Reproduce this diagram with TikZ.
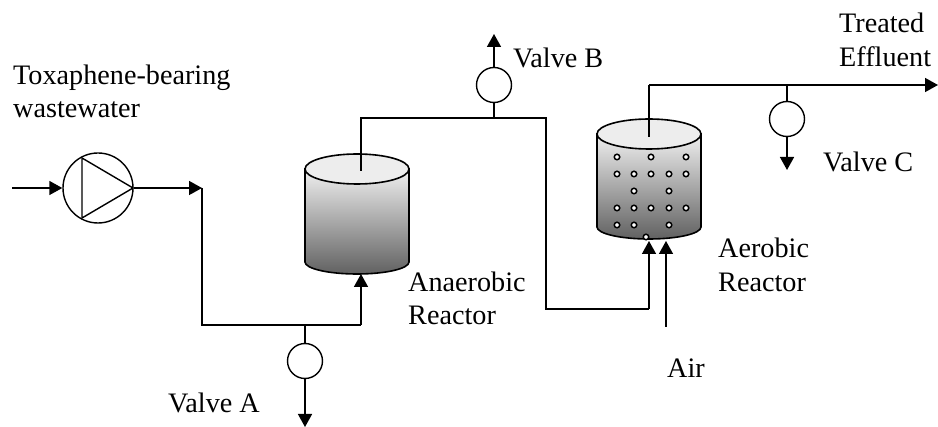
\documentclass[tikz,border=0pt]{standalone}
\usepackage{fontspec}
\setmainfont{Liberation Serif}
\usetikzlibrary{arrows.meta}
\tikzset{
  every picture/.style={x=1pt,y=-1pt},
  pipe/.style={line width=1.5pt,line join=miter},
  flow/.style={pipe,-{Triangle[length=13pt,width=14pt]}},
  valve/.style={circle,draw,line width=1.4pt,minimum size=35pt,inner sep=0pt,fill=white},
  pump/.style={circle,draw,line width=1.4pt,minimum size=70pt,inner sep=0pt,fill=white},
  lbl/.style={anchor=base west,inner sep=0pt,font=\fontsize{28.2pt}{30pt}\selectfont},
  tank/.style={line width=1.6pt,draw=black,top color=black!6,bottom color=black!62,shading angle=0},
  tanktop/.style={line width=1.6pt,draw=black,fill=black!7},
  bubble/.style={circle,draw,line width=1.5pt,fill=white,minimum size=5.5pt,inner sep=0pt}
}
\newcommand{\tankshape}[4]{% cx, top y, rx, side end y
  \path[tank] (#1-#3,#2) -- (#1-#3,#4) arc[start angle=180,end angle=360,x radius=#3,y radius=-12] -- (#1+#3,#2) -- cycle;
  \path[tanktop] (#1,#2) ellipse[x radius=#3,y radius=15];
}
\begin{document}
\begin{tikzpicture}
\useasboundingbox (0,0) rectangle (938,427);
\tankshape{357}{169}{52}{262}
\tankshape{649}{134}{52}{227}
% bubbles
\foreach \x/\y [count=\i] in {617/157,651/157,686/157,
  617/174,634/174,651/174,669/174,686/174,
  634/191,669/191,
  617/208,634/208,651/208,669/208,686/208,
  617/225,634/225,669/225,646/237}
  \node[bubble] (b\i) at (\x,\y) {};
% equipment
\node[pump] (pump) at (98,188) {};
\coordinate (pa) at (82,158);
\coordinate (pb) at (82,218);
\coordinate (pc) at (133,188);
\draw[line width=1.4pt,line join=round] (pa) -- (pb) -- (pc) -- cycle;
\node[valve] (va) at (305,361) {};
\node[valve] (vb) at (494,85) {};
\node[valve] (vc) at (787,119) {};
% coordinates
\coordinate (in) at (12,188);
\coordinate (j1) at (202,188);
\coordinate (j2) at (202,325);
\coordinate (ja) at (305,325);
\coordinate (j3) at (361,325);
\coordinate (ana) at (361,274);
\coordinate (aout) at (361,171);
\coordinate (j4) at (361,118);
\coordinate (jb) at (494,118);
\coordinate (j5) at (546,118);
\coordinate (j6) at (546,309);
\coordinate (j7) at (649,309);
\coordinate (aer) at (649,241);
\coordinate (airin) at (666,327);
\coordinate (airend) at (666,241);
\coordinate (eout) at (649,137);
\coordinate (j8) at (649,85);
\coordinate (jc) at (787,85);
\coordinate (eff) at (938,85);
\coordinate (aend) at (305,427);
\coordinate (bend) at (494,34);
\coordinate (cend) at (787,170);
% pipes
\draw[flow] (in) -- (pump);
\draw[flow] (pump) -- (j1);
\draw[pipe] (j1) -- (j2) -- (j3);
\draw[flow] (j3) -- (ana);
\draw[pipe] (ja) -- (va);
\draw[flow] (va) -- (aend);
\draw[pipe] (aout) -- (j4) -- (j5) -- (j6) -- (j7);
\draw[flow] (j7) -- (aer);
\draw[pipe] (jb) -- (vb);
\draw[flow] (vb) -- (bend);
\draw[flow] (airin) -- (airend);
\draw[pipe] (eout) -- (j8);
\draw[flow] (j8) -- (eff);
\draw[pipe] (jc) -- (vc);
\draw[flow] (vc) -- (cend);
% labels
\node[lbl] (t1) at (13,85) {Toxaphene-bearing};
\node[lbl] (t2) at (13,118) {wastewater};
\node[lbl] (t3) at (513,68) {Valve B};
\node[lbl] (t4) at (839,33) {Treated};
\node[lbl] (t5) at (839,67) {Effluent};
\node[lbl] (t6) at (823,172) {Valve C};
\node[lbl] (t7) at (408,292) {Anaerobic};
\node[lbl] (t8) at (408,325) {Reactor};
\node[lbl] (t9) at (718,258) {Aerobic};
\node[lbl] (t10) at (718,292) {Reactor};
\node[lbl] (t11) at (667,378) {Air};
\node[lbl] (t12) at (168,413) {Valve A};
\end{tikzpicture}
\end{document}
